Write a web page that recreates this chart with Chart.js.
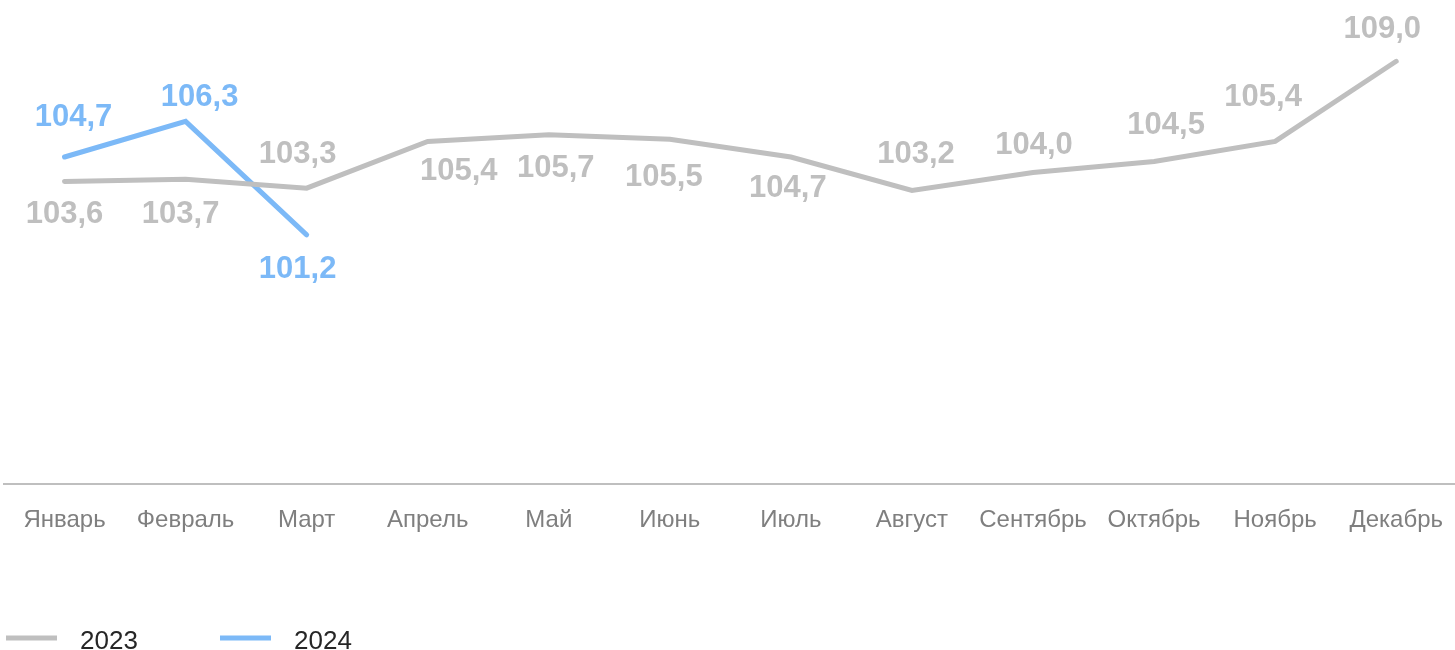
<!DOCTYPE html>
<html>
<head>
<meta charset="utf-8">
<script src="https://cdn.jsdelivr.net/npm/chart.js@4/dist/chart.umd.min.js"></script>
<style>
  html, body { margin: 0; padding: 0; background: #ffffff; overflow: hidden; }
  #wrap { width: 1465px; height: 650px; position: relative; }
</style>
</head>
<body>
<div id="wrap"><canvas id="chart"></canvas></div>
<script>
const months = [
  "Январь", "Февраль", "Март", "Апрель", "Май", "Июнь",
  "Июль", "Август", "Сентябрь", "Октябрь", "Ноябрь", "Декабрь"
];

const values2023 = [103.6, 103.7, 103.3, 105.4, 105.7, 105.5, 104.7, 103.2, 104.0, 104.5, 105.4, 109.0];
const values2024 = [104.7, 106.3, 101.2];

const seriesNames = ["2023", "2024"];

// where each value label sits relative to its point (styling only)
const labelShift2023 = [
  [0, 31], [-5, 33], [-9, -36], [31, 28], [7, 31], [-6, 36],
  [-3, 29], [4, -38], [1, -30], [12, -38], [-12, -46], [-14, -34]
];
const labelShift2024 = [[9, -42], [14, -26], [-9, 32]];

const colors = ["#bfbfbf", "#7cb9f7"];

const valueLabels = {
  id: "valueLabels",
  afterDatasetsDraw(chart) {
    const ctx = chart.ctx;
    const shifts = [labelShift2023, labelShift2024];
    ctx.save();
    ctx.font = "bold 31px 'Liberation Sans', Arial, sans-serif";
    ctx.textAlign = "center";
    ctx.textBaseline = "alphabetic";
    chart.data.datasets.forEach((ds, i) => {
      const meta = chart.getDatasetMeta(i);
      ctx.fillStyle = ds.borderColor;
      meta.data.forEach((pt, j) => {
        const [dx, dy] = shifts[i][j];
        const text = ds.data[j].toFixed(1).replace(".", ",");
        ctx.fillText(text, pt.x + dx, pt.y + dy + 11);
      });
    });
    ctx.restore();
  }
};

const bottomLegend = {
  id: "bottomLegend",
  afterDraw(chart) {
    const ctx = chart.ctx;
    ctx.save();
    ctx.font = "26px 'Liberation Sans', Arial, sans-serif";
    ctx.textBaseline = "alphabetic";
    chart.data.datasets.forEach((ds, i) => {
      const x0 = 6 + i * 214;
      ctx.strokeStyle = ds.borderColor;
      ctx.lineWidth = 5;
      ctx.beginPath();
      ctx.moveTo(x0, 638);
      ctx.lineTo(x0 + 51, 638);
      ctx.stroke();
      ctx.fillStyle = "#262626";
      ctx.fillText(ds.label, x0 + 74, 649);
    });
    ctx.restore();
  }
};

new Chart(document.getElementById("chart"), {
  type: "line",
  data: {
    labels: months,
    datasets: [
      {
        label: seriesNames[0],
        data: values2023,
        borderColor: colors[0],
        backgroundColor: colors[0],
        borderWidth: 5,
        borderCapStyle: "round",
        pointRadius: 0,
        tension: 0
      },
      {
        label: seriesNames[1],
        data: values2024,
        borderColor: colors[1],
        backgroundColor: colors[1],
        borderWidth: 5,
        borderCapStyle: "round",
        pointRadius: 0,
        tension: 0
      }
    ]
  },
  options: {
    responsive: true,
    maintainAspectRatio: false,
    animation: false,
    layout: {
      padding: { top: 39, left: 4, right: 0, bottom: 93 }
    },
    plugins: {
      legend: { display: false },
      tooltip: { enabled: false }
    },
    scales: {
      x: {
        offset: true,
        grid: { display: false, drawTicks: false },
        border: { display: true, color: "#bfbfbf", width: 2 },
        ticks: {
          color: "#7f7f7f",
          padding: 22,
          maxRotation: 0,
          autoSkip: false,
          font: { family: "'Liberation Sans', Arial, sans-serif", size: 24 }
        }
      },
      y: {
        display: false,
        min: 90,
        max: 110
      }
    }
  },
  plugins: [valueLabels, bottomLegend]
});
</script>
</body>
</html>
